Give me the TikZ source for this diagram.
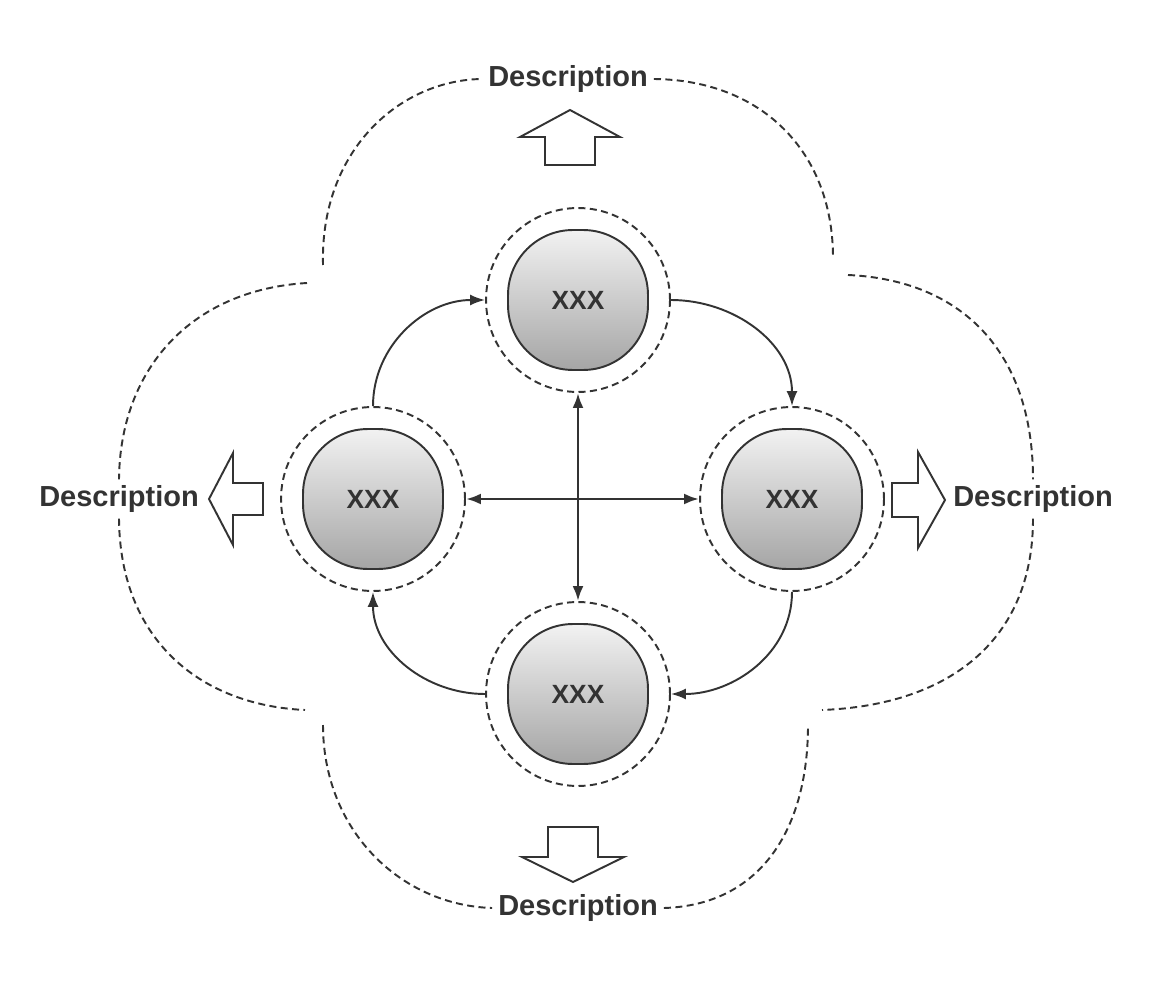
\documentclass[tikz,border=0pt]{standalone}
\usepackage{fontspec}
\setmainfont{Liberation Sans}
\usetikzlibrary{arrows.meta}
\definecolor{textgray}{RGB}{51,51,51}
\definecolor{shadetop}{RGB}{242,242,242}
\definecolor{shadebottom}{RGB}{165,165,165}

\begin{document}
\begin{tikzpicture}[x=0.02cm, y=-0.02cm,
    ring/.style={draw=textgray, circle, dash pattern=on 4pt off 2.5pt, line width=1.1pt, minimum size=3.68cm},
    core/.style={draw=textgray, line width=1.1pt, rounded corners=1.3cm, minimum width=2.8cm,
                 minimum height=2.8cm, top color=shadetop, bottom color=shadebottom,
                 font=\bfseries\fontsize{15}{17}\selectfont, text=textgray},
    desc/.style={font=\bfseries\fontsize{16.5}{20}\selectfont, text=textgray},
    cloud/.style={dash pattern=on 4pt off 2.5pt, line width=1.1pt, textgray},
    flow/.style={line width=1.1pt, textgray, -{Latex[length=3mm,width=2.2mm]}},
    block/.style={draw=textgray, line width=1.1pt, fill=white}]
    \useasboundingbox (0,0) rectangle (1152,986);

    \node[ring] (ringT) at (578,300) {};
    \node[ring] (ringL) at (373,499) {};
    \node[ring] (ringR) at (792,499) {};
    \node[ring] (ringB) at (578,694) {};
    \node[core] (top)    at (578,300) {XXX};
    \node[core] (left)   at (373,499) {XXX};
    \node[core] (right)  at (792,499) {XXX};
    \node[core] (bottom) at (578,694) {XXX};

    \node[desc] (dT) at (568,79)  {Description};
    \node[desc] (dL) at (119,499) {Description};
    \node[desc] (dR) at (1033,499) {Description};
    \node[desc] (dB) at (578,908) {Description};

    % cloud outline
    \draw[cloud] (323,265) .. controls (320,150) and (400,80) .. (dT.west);
    \draw[cloud] (dT.east) .. controls (760,80) and (833,150) .. (833,258);
    \draw[cloud] (307,283) .. controls (190,290) and (120,370) .. (dL.north);
    \draw[cloud] (dL.south) .. controls (120,640) and (200,705) .. (305,710);
    \draw[cloud] (848,275) .. controls (960,280) and (1033,350) .. (dR.north);
    \draw[cloud] (dR.south) .. controls (1033,640) and (950,705) .. (822,710);
    \draw[cloud] (323,725) .. controls (323,830) and (400,905) .. (dB.west);
    \draw[cloud] (dB.east) .. controls (760,905) and (808,830) .. (808,725);

    % block arrows
    \draw[block] (545,165) -- (545,137) -- (520,137) -- (570,110) -- (620,137) -- (595,137) -- (595,165) -- cycle;
    \draw[block] (548,827) -- (548,857) -- (522,857) -- (573,882) -- (624,857) -- (598,857) -- (598,827) -- cycle;
    \draw[block] (263,483) -- (233,483) -- (233,453) -- (209,499) -- (233,545) -- (233,515) -- (263,515) -- cycle;
    \draw[block] (892,483) -- (918,483) -- (918,452) -- (945,500) -- (918,548) -- (918,517) -- (892,517) -- cycle;

    % connectors
    \draw[flow, {Latex[length=3mm,width=2.2mm]}-{Latex[length=3mm,width=2.2mm]}, line width=1.6pt] (ringL.east) -- (ringR.west);
    \draw[flow, {Latex[length=3mm,width=2.2mm]}-{Latex[length=3mm,width=2.2mm]}, line width=1.6pt] (ringT.south) -- (ringB.north);
    \draw[flow] (ringL.north) to[out=90, in=180] (ringT.west);
    \draw[flow] (ringT.east) to[out=0, in=90] (ringR.north);
    \draw[flow] (ringR.south) to[out=-90, in=0] (ringB.east);
    \draw[flow] (ringB.west) to[out=180, in=-90] (ringL.south);
\end{tikzpicture}
\end{document}
